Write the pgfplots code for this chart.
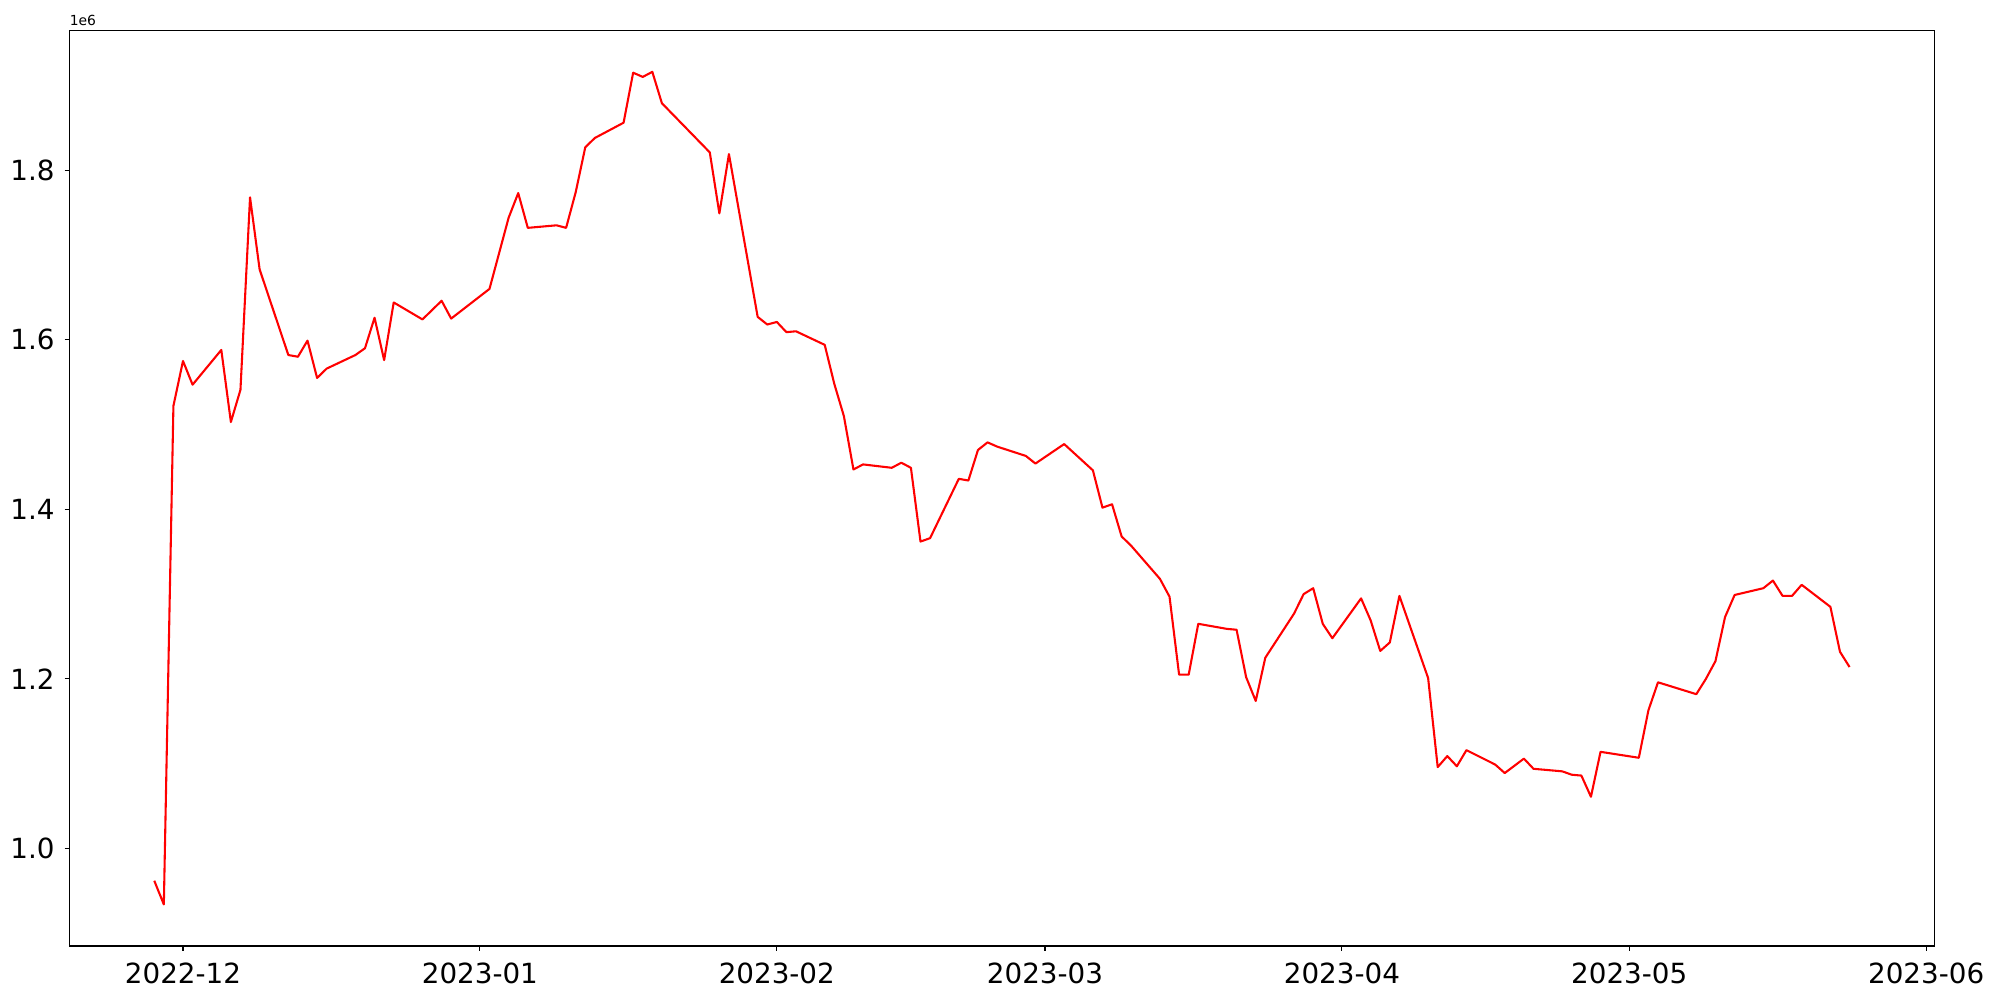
\documentclass[border=0pt]{standalone}
\usepackage{fontspec}
\setmainfont{DejaVu Sans}
\usepackage{pgfplots}
\pgfplotsset{compat=1.18}
\usepackage{pgfplotstable}
% x = days since 2022-12-01, y = value in units of 1e6
\pgfplotstableread{
d v
-3 0.962
-2 0.934
-1 1.522
0 1.575
1 1.547
4 1.588
5 1.503
6 1.541
7 1.768
8 1.683
11 1.582
12 1.580
13 1.599
14 1.555
15 1.566
18 1.582
19 1.590
20 1.626
21 1.576
22 1.644
25 1.624
27 1.646
28 1.625
32 1.660
33 1.702
34 1.744
35 1.773
36 1.732
39 1.735
40 1.732
41 1.774
42 1.827
43 1.838
46 1.856
47 1.915
48 1.910
49 1.916
50 1.879
55 1.821
56 1.749
57 1.819
60 1.627
61 1.618
62 1.621
63 1.609
64 1.610
67 1.594
68 1.548
69 1.510
70 1.447
71 1.453
74 1.449
75 1.455
76 1.449
77 1.362
78 1.366
81 1.436
82 1.434
83 1.470
84 1.479
85 1.474
88 1.463
89 1.454
92 1.477
95 1.446
96 1.402
97 1.406
98 1.368
99 1.357
102 1.318
103 1.297
104 1.205
105 1.205
106 1.265
109 1.259
110 1.258
111 1.202
112 1.174
113 1.225
116 1.277
117 1.300
118 1.307
119 1.265
120 1.248
123 1.295
124 1.269
125 1.233
126 1.243
127 1.298
130 1.201
131 1.096
132 1.109
133 1.097
134 1.116
137 1.099
138 1.089
140 1.106
141 1.094
144 1.091
145 1.087
146 1.086
147 1.061
148 1.114
152 1.107
153 1.163
154 1.196
158 1.182
159 1.200
160 1.221
161 1.273
162 1.299
165 1.307
166 1.316
167 1.298
168 1.298
169 1.311
172 1.285
173 1.232
174 1.214
}\series
\begin{document}
\begin{tikzpicture}
\useasboundingbox (-50.04pt,-38.88pt) rectangle (1389.96pt,681.12pt);
\begin{axis}[
  at={(0pt,0pt)}, anchor=south west,
  scale only axis,
  width=1342.66pt, height=659.3pt,
  xmin=-11.85, xmax=182.85,
  ymin=0.885, ymax=1.965,
  xtick={0,31,62,90,121,151,182},
  xticklabels={2022-12,2023-01,2023-02,2023-03,2023-04,2023-05,2023-06},
  ytick={1.0,1.2,1.4,1.6,1.8},
  yticklabels={1.0,1.2,1.4,1.6,1.8},
  tick align=outside,
  major tick length=3.5pt,
  tick style={black, line width=0.8pt},
  axis line style={black, line width=0.8pt},
  xtick pos=bottom, ytick pos=left,
  /pgf/number format/assume math mode=true,
  tick label style={font=\fontsize{20}{24}\selectfont, inner sep=0pt},
  xticklabel style={anchor=north, yshift=-8.5pt},
  yticklabel style={anchor=east, xshift=-7pt},
]
\addplot[red, line width=1.5pt, line join=round] table[x=d, y=v] {\series};
\end{axis}
\node[anchor=base west, inner sep=0pt, font=\fontsize{10}{12}\selectfont] at ([yshift=3.2pt]current axis.north west) {1e6};
\end{tikzpicture}
\end{document}
